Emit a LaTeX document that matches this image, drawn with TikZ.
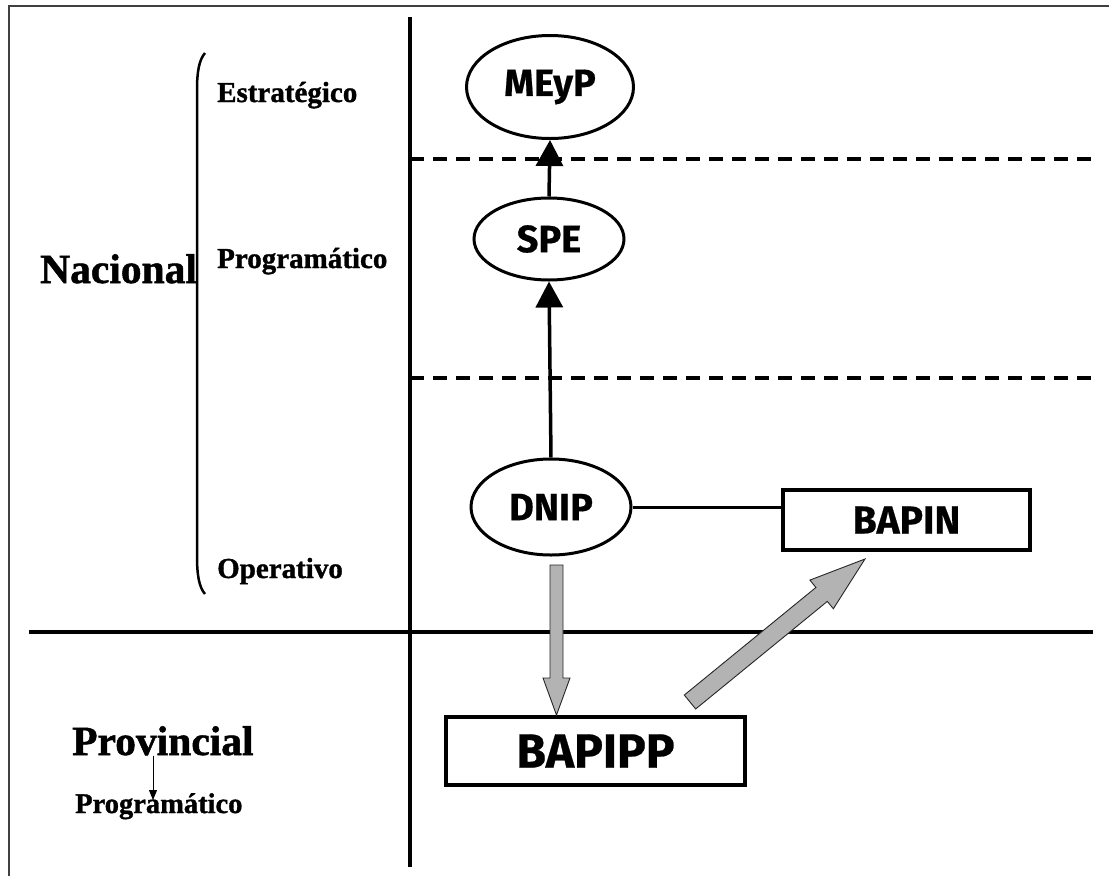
\documentclass[tikz,border=0pt]{standalone}
\usepackage{fontspec}
\setmainfont{Liberation Serif}[BoldFont={Liberation Serif Bold}]
\newfontfamily\comicfont{Fira Sans Bold}[FakeBold=0.5]
\newfontfamily\serifbold{Liberation Serif Bold}[FakeBold=1.2]
\usetikzlibrary{arrows.meta,shapes.geometric,calc}
\tikzset{
  pics/blockarrow/.style args={#1/#2/#3/#4}{code={
    \draw[blockfill] (0,-#2) -- (#1-#4,-#2) -- (#1-#4,-#3) -- (#1,0) -- (#1-#4,#3) -- (#1-#4,#2) -- (0,#2) -- cycle;
  }},
  blockfill/.style={draw=black!85, line width=0.9pt, fill={rgb,255:red,179;green,179;blue,179}, line join=miter},
}
\begin{document}
\begin{tikzpicture}[x=1pt,y=-1pt,
  biglbl/.style={inner sep=0pt, anchor=base west, font=\serifbold\fontsize{41.5}{45}\selectfont},
  smalllbl/.style={inner sep=0pt, anchor=base west, font=\serifbold\fontsize{29}{32}\selectfont},
  ell/.style={ellipse, draw, line width=3pt, inner sep=0pt, font=\comicfont\fontsize{38}{40}\selectfont},
  boxn/.style={rectangle, draw, line width=3.5pt, inner sep=0pt, font=\comicfont\fontsize{39}{42}\selectfont},
  mainline/.style={line width=3.5pt},
  dashline/.style={line width=4pt, dash pattern=on 14pt off 9pt},
  conn/.style={line width=3.5pt, -{Triangle[length=26pt,width=27pt]}},
  plain/.style={line width=3pt},
  smallarr/.style={line width=1pt, -{Triangle[length=10pt,width=8pt]}},
]
\path[use as bounding box] (0,0) rectangle (1109,876);

% frame (partially visible)
\draw[line width=2pt, black!75] (9,876) -- (9,6) -- (1109,6);

% grid lines
\draw[mainline] (410,17) -- (410,867);
\draw[mainline] (29,632) -- (1093,632);
\draw[dashline] (410,159) -- (1093,159);
\draw[dashline] (410,378) -- (1093,378);

% bracket
\draw[line width=2.5pt] (205,53) .. controls (199,60) and (197,72) .. (197,90) -- (197,556) .. controls (197,575) and (199,587) .. (205,594);

% left labels
\node[biglbl] (nac) at (40,283) {Nacional};
\node[smalllbl] (est) at (217,102) {Estratégico};
\node[smalllbl] (prog) at (217,268) {Programático};
\node[smalllbl] (oper) at (217,578) {Operativo};
\node[biglbl] (prov) at (72,755) {Provincial};
\node[smalllbl, font=\serifbold\fontsize{28.5}{31}\selectfont] (prog2) at (75,813) {Programático};
\coordinate (pa) at (153,800);
\draw[smallarr] (prov.south -| pa) -- (pa);

% nodes
\node[ell, minimum width=167pt, minimum height=103pt] (meyp) at (550,87) {MEyP};
\node[ell, minimum width=150pt, minimum height=82pt] (spe) at (549,239) {SPE};
\node[ell, minimum width=160pt, minimum height=96pt] (dnip) at (551,507) {DNIP};
\node[boxn, minimum width=247pt, minimum height=60pt] (bapin) at (906.5,520) {BAPIN};
\node[boxn, minimum width=299pt, minimum height=68pt, font=\comicfont\fontsize{48}{52}\selectfont] (bapipp) at (595.5,751) {BAPIPP};

% connectors
\draw[conn] (spe.north) -- (meyp.south);
\draw[conn] (dnip.north) -- (spe.south);
\draw[plain] (dnip.east) -- (dnip.east -| bapin.west);

% block arrows
\coordinate (va) at (556.5,565);
\coordinate (da) at (690,702);
\pic[rotate=-90] at (va) {blockarrow=150/6.5/13.5/37};
\pic[rotate=39.26] at (da) {blockarrow=226/9/18.5/56};
\end{tikzpicture}
\end{document}
